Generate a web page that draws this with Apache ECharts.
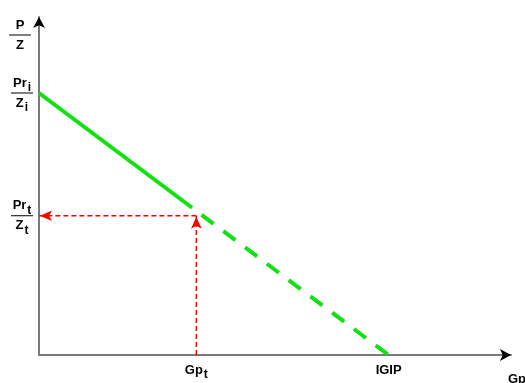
<!DOCTYPE html>
<html><head><meta charset="utf-8">
<script src="https://cdn.jsdelivr.net/npm/echarts@6/dist/echarts.min.js"></script>
<style>html,body{margin:0;padding:0;background:#fff}#c{width:525px;height:383px}</style>
</head><body><div id="c"></div>
<script>
// values (arbitrary units)
const xMax = 135;
const yMax = 129;
const igip = 100;          // x-intercept
const gpT = 45;            // Gp_t
const priZi = 100;         // Pr_i / Z_i
const prtZt = 53.15;       // Pr_t / Z_t
const solidLine = [[0, 100], [43.8, 56.2]];
const dashedLine = [[46.5, 53.5], [100, 0]];
const redVertical = [[gpT, 0], [gpT, prtZt]];
const redHorizontal = [[gpT, prtZt], [0, prtZt]];
const xTickValues = [gpT, igip];
const yTickValues = [prtZt, priZi];

const FONT = 'Liberation Sans';
const base = {fontFamily: FONT, fontWeight: 'bold', color: '#000'};
const rich = {
  n: Object.assign({}, base, {fontSize: 13, align: 'center', lineHeight: 14}),
  s: Object.assign({}, base, {fontSize: 12, align: 'center', lineHeight: 14, padding: [9, 0, 0, 1]}),
  b: {width: 22, height: 1, lineHeight: 6, backgroundColor: '#000', align: 'center'}
};
const RED = '#ff0000';
const GREEN = '#11e011';
const AXIS = '#7a7a7a';
const redLine = {color: RED, width: 1.5, type: [5, 3]};

const chart = echarts.init(document.getElementById('c'), null, {renderer: 'canvas'});
chart.setOption({
  animation: false,
  grid: {left: 39, right: 14, top: 17, bottom: 28, outerBoundsMode: 'none', containLabel: false},
  xAxis: {
    type: 'value', min: 0, max: xMax,
    splitLine: {show: false}, axisTick: {show: false},
    axisLine: {lineStyle: {color: AXIS, width: 2}},
    axisLabel: {
      customValues: xTickValues, margin: 8,
      formatter: v => v === gpT ? '{n|Gp}{s|t}' : '{n|IGIP}',
      rich: rich
    },
    name: 'Gp', nameLocation: 'end', nameGap: -3,
    nameTextStyle: Object.assign({}, base, {fontSize: 13, align: 'left', verticalAlign: 'top', padding: [18, 0, 0, 0]})
  },
  yAxis: {
    type: 'value', min: 0, max: yMax,
    splitLine: {show: false}, axisTick: {show: false},
    axisLine: {lineStyle: {color: AXIS, width: 2}},
    axisLabel: {
      customValues: yTickValues, margin: 6,
      formatter: v => v === priZi ? '{n|Pr}{s|i}\n{b|}\n{n|Z}{s|i}' : '{n|Pr}{s|t}\n{b|}\n{n|Z}{s|t}',
      rich: rich
    },
    name: '{n|P}\n{b|}\n{n|Z}', nameLocation: 'end', nameGap: -18,
    nameTextStyle: {align: 'right', verticalAlign: 'middle', padding: [0, 8, 0, 0], rich: rich}
  },
  series: [
    {type: 'line', data: solidLine, symbol: 'none', color: GREEN, lineStyle: {color: GREEN, width: 4}, silent: true,
     markPoint: {silent: true, symbol: 'arrow', symbolSize: [9, 11], itemStyle: {color: '#000'}, label: {show: false},
       data: [{coord: [0, yMax], symbolRotate: 0}, {coord: [xMax, 0], symbolRotate: -90}]}},
    {type: 'line', data: dashedLine, symbol: 'none', color: GREEN, lineStyle: {color: GREEN, width: 4, type: [15, 12.2], cap: 'butt'}, silent: true},
    {type: 'line', data: redVertical, symbol: 'none', color: RED, lineStyle: redLine, silent: true, z: 3,
     markPoint: {silent: true, symbol: 'arrow', symbolSize: [8, 12], symbolOffset: [0, 1], itemStyle: {color: RED}, label: {show: false},
       data: [{coord: redVertical[1]}]}},
    {type: 'line', data: redHorizontal, symbol: 'none', color: RED, lineStyle: redLine, silent: true, z: 3,
     markPoint: {silent: true, symbol: 'arrow', symbolSize: [8, 12], symbolRotate: 90, symbolOffset: [1, 0], itemStyle: {color: RED}, label: {show: false},
       data: [{coord: redHorizontal[1]}]}}
  ]
});
</script></body></html>
